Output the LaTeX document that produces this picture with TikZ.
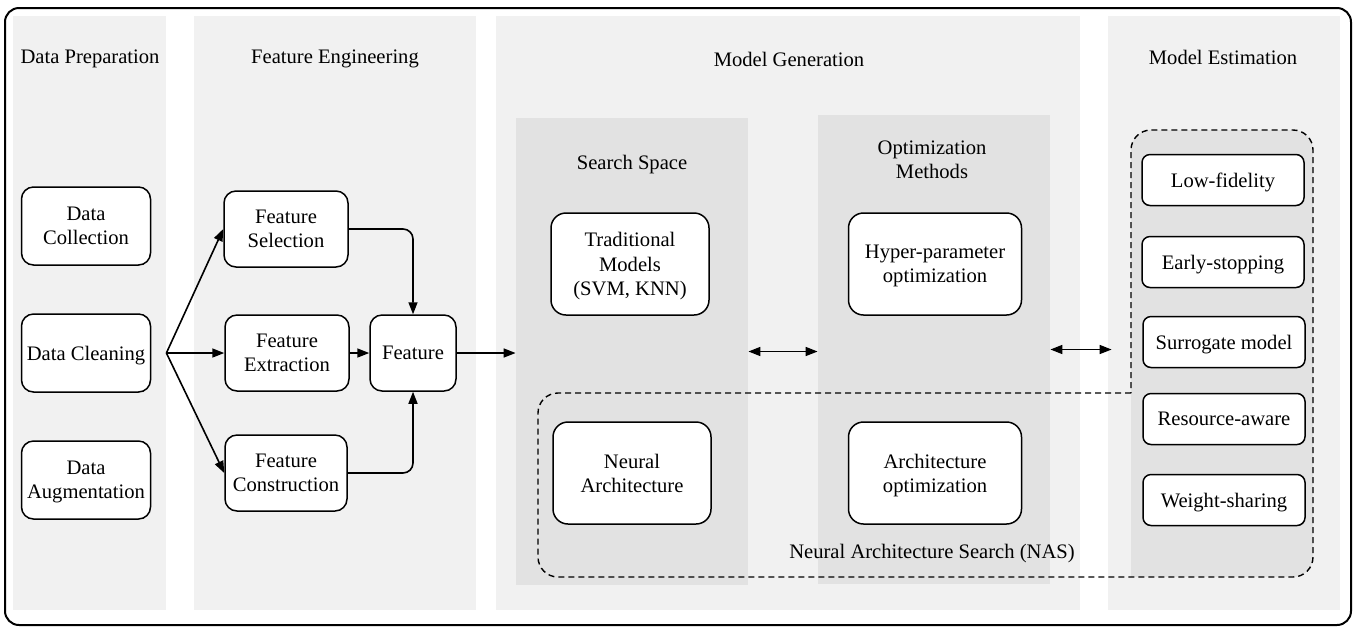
\documentclass[tikz,border=0pt]{standalone}
\usepackage{fontspec}
\setmainfont{Liberation Serif}
\usetikzlibrary{arrows.meta, positioning}
\definecolor{pnlgray}{RGB}{241,241,241}
\definecolor{boxgray}{RGB}{226,226,226}

\begin{document}
\begin{tikzpicture}[x=0.5pt, y=-0.5pt,
  font=\fontsize{10.3}{12.1}\selectfont,
  every node/.append style={text depth=0pt},
  pnl/.style={fill=pnlgray, draw=none, inner sep=0pt, minimum height=297pt},
  sub/.style={fill=boxgray, draw=none, inner sep=0pt, minimum width=116pt},
  blk/.style={draw=black, line width=0.75pt, fill=white, rounded corners=6pt, align=center, inner sep=2pt},
  mdl/.style={blk, rounded corners=7.5pt, minimum height=51pt},
  est/.style={blk, rounded corners=4pt, minimum width=81pt, minimum height=25.5pt},
  arr/.style={-{Triangle[length=6pt, width=4.5pt]}, line width=0.8pt},
  darr/.style={{Triangle[length=6pt, width=4.5pt]}-{Triangle[length=6pt, width=4.5pt]}, line width=0.8pt}
]
  \useasboundingbox (0,0) rectangle (1359,634);
  \draw[line width=1pt, rounded corners=7pt] (5,8) rectangle (1351,625);

  % stage panels
  \node[pnl, minimum width=76.5pt] (dp) at (89.5,313) {};
  \node[pnl, minimum width=141pt] (fe) at (335,313) {};
  \node[pnl, minimum width=292pt] (mg) at (788,313) {};
  \node[pnl, minimum width=116pt] (me) at (1224,313) {};
  \node[sub, minimum height=233.5pt] (ss) at (632,351.5) {};
  \node[sub, minimum height=234.5pt] (om) at (934,349.5) {};
  \fill[boxgray, rounded corners=10pt] (1131,130) rectangle (1313,577);
  \fill[boxgray] (1131,540) rectangle (1160,577);

  \node (dptitle) at (90,57) {Data Preparation};
  \node (fetitle) at (335,57) {Feature Engineering};
  \node (mgtitle) at (789,59) {Model Generation};
  \node (metitle) at (1223,57) {Model Estimation};
  \node (sstitle) at (632,162) {Search Space};
  \node[align=center] (omtitle) at (932,160) {Optimization\\Methods};

  % NAS outline
  \draw[line width=0.7pt, dash pattern=on 3pt off 2pt, rounded corners=10pt]
    (1131,393) -- (538,393) -- (538,577) -- (1313,577) -- (1313,130) -- (1131,130) -- (1131,393);
  \node (naslbl) at (932,551) {Neural Architecture Search (NAS)};

  \node[blk, minimum width=64.5pt, minimum height=39pt] (coll) at (86,226) {Data\\Collection};
  \node[blk, minimum width=64.5pt, minimum height=39pt] (clean) at (86,353) {Data Cleaning};
  \node[blk, minimum width=64.5pt, minimum height=39pt] (aug) at (86,480) {Data\\Augmentation};

  \node[blk, minimum width=62pt, minimum height=38pt] (fsel) at (286,229) {Feature\\Selection};
  \node[blk, minimum width=62pt, minimum height=38pt] (fext) at (287,353) {Feature\\Extraction};
  \node[blk, minimum width=61pt, minimum height=38pt] (fcon) at (286,473) {Feature\\Construction};
  \node[blk, minimum width=43pt, minimum height=38pt] (feat) at (413,353) {Feature};

  \node[mdl, minimum width=79pt] (trad) at (630,264) {Traditional\\Models\\(SVM, KNN)};
  \node[mdl, minimum width=79pt] (neur) at (632,473) {Neural\\Architecture};
  \node[mdl, minimum width=86.5pt] (hyp) at (935,264) {Hyper-parameter\\optimization};
  \node[mdl, minimum width=86.5pt] (archopt) at (935,473) {Architecture\\optimization};

  \node[est] (lowf) at (1223,180) {Low-fidelity};
  \node[est] (early) at (1223,262) {Early-stopping};
  \node[est] (surr) at (1224,342) {Surrogate model};
  \node[est] (res) at (1224,419) {Resource-aware};
  \node[est] (wsh) at (1224,500) {Weight-sharing};

  % connectors
  \coordinate (split) at (dp.east |- clean.east);
  \draw[arr] (split) -- (fsel.west);
  \draw[arr] (split) -- (fext.west);
  \draw[arr] (split) -- (fcon.west);
  \draw[arr, rounded corners=5pt] (fsel.east) -| (feat.north);
  \draw[arr] (fext) -- (feat);
  \draw[arr, rounded corners=5pt] (fcon.east) -| (feat.south);
  \draw[arr] (feat.east) -- (feat.east -| ss.west);
  \draw[darr] (ss.east) -- (ss.east -| om.west);
  \draw[darr] (om.east) -- ([xshift=2pt]om.east -| me.west);
\end{tikzpicture}
\end{document}
